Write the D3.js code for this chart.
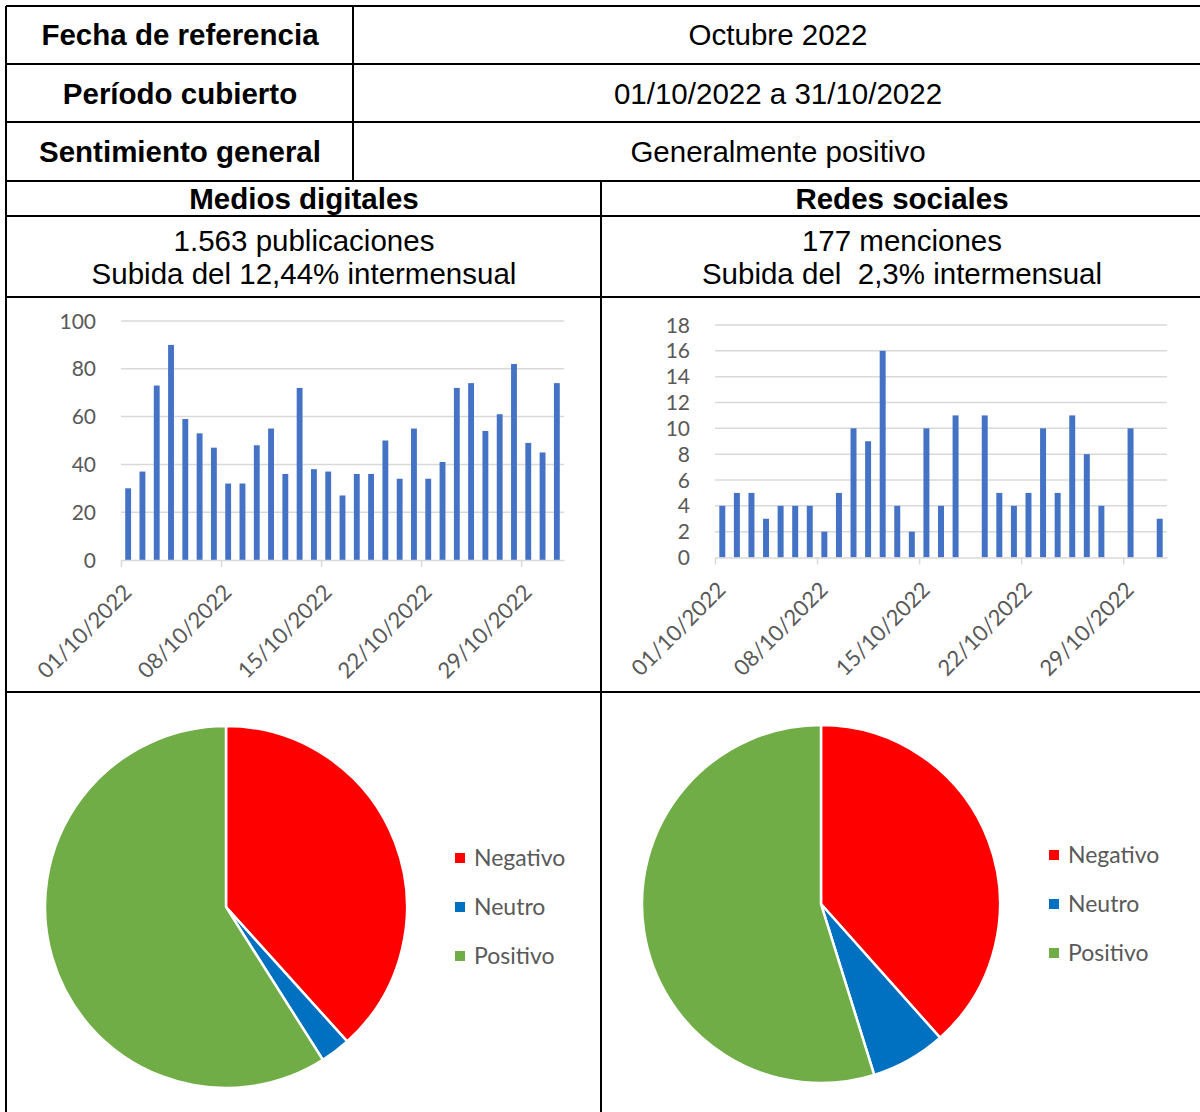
<!DOCTYPE html>
<html>
<head>
<meta charset="utf-8">
<script src="https://cdn.jsdelivr.net/npm/d3@7"></script>
<style>
    body { margin: 0; background: #fff; }
    svg text { font-family: "Liberation Sans", Arial, sans-serif; white-space: pre; }
    .axis text, .legend text { font-family: Lato, "Open Sans", sans-serif; fill: #595959; }
</style>
</head>
<body>
<div id="chart"></div>
<script>
// publicaciones diarias en medios digitales, 1 a 31 de octubre
var mediosValues = [30, 37, 73, 90, 59, 53, 47, 32, 32, 48, 55, 36, 72, 38, 37, 27,
    36, 36, 50, 34, 55, 34, 41, 72, 74, 54, 61, 82, 49, 45, 74];
// menciones diarias en redes sociales
var redesValues = [4, 5, 5, 3, 4, 4, 4, 2, 5, 10, 9, 16, 4, 2, 10, 4,
    11, 0, 11, 5, 4, 5, 10, 5, 11, 8, 4, 0, 10, 0, 3];

var sentimentLabels = ["Negativo", "Neutro", "Positivo"];
var sentimentColors = ["#ff0000", "#0070c0", "#70ad47"];
var mediosSentiment = [599, 42, 922];
var redesSentiment = [68, 12, 97];

var mediosTicks = [0, 20, 40, 60, 80, 100];
var redesTicks = [0, 2, 4, 6, 8, 10, 12, 14, 16, 18];

var tableRows = [
    ["Fecha de referencia", "Octubre 2022"],
    ["Período cubierto", "01/10/2022 a 31/10/2022"],
    ["Sentimiento general", "Generalmente positivo"]
];
var sectionTitles = ["Medios digitales", "Redes sociales"];
var sectionLines = [
    ["1.563 publicaciones", "Subida del 12,44% intermensual"],
    ["177 menciones", "Subida del  2,3% intermensual"]
];

var W = 1200, H = 1112;
var svg = d3.select("#chart").append("svg")
    .attr("width", W).attr("height", H);

function drawTable() {
    var g = svg.append("g");
    var hLines = [
        [6, 1200, 6], [6, 1200, 64], [6, 1200, 122], [6, 1200, 181],
        [6, 1200, 216], [6, 1200, 297], [6, 1200, 692]
    ];
    var vLines = [[6, 6, 1112], [353, 6, 181], [601, 181, 1112]];

    g.selectAll("line.h").data(hLines).enter().append("line")
        .attr("x1", function(d) { return d[0]; })
        .attr("x2", function(d) { return d[1]; })
        .attr("y1", function(d) { return d[2]; })
        .attr("y2", function(d) { return d[2]; })
        .attr("stroke", "#000").attr("stroke-width", 2);
    g.selectAll("line.v").data(vLines).enter().append("line")
        .attr("x1", function(d) { return d[0]; })
        .attr("x2", function(d) { return d[0]; })
        .attr("y1", function(d) { return d[1]; })
        .attr("y2", function(d) { return d[2]; })
        .attr("stroke", "#000").attr("stroke-width", 2);

    var rowBase = [45, 104, 162];
    tableRows.forEach(function(r, i) {
        g.append("text").attr("x", 180).attr("y", rowBase[i])
            .attr("text-anchor", "middle").attr("font-weight", "bold")
            .attr("font-size", 29.5).text(r[0]);
        g.append("text").attr("x", 778).attr("y", rowBase[i])
            .attr("text-anchor", "middle")
            .attr("font-size", 29.5).text(r[1]);
    });

    var centers = [304, 902];
    sectionTitles.forEach(function(t, i) {
        g.append("text").attr("x", centers[i]).attr("y", 209)
            .attr("text-anchor", "middle").attr("font-weight", "bold")
            .attr("font-size", 29.5).text(t);
        g.append("text").attr("x", centers[i]).attr("y", 251)
            .attr("text-anchor", "middle").attr("font-size", 29.5).text(sectionLines[i][0]);
        g.append("text").attr("x", centers[i]).attr("y", 284)
            .attr("text-anchor", "middle").attr("font-size", 29.5).text(sectionLines[i][1]);
    });
}

function drawBars(values, ticks, box) {
    var days = d3.timeDay.range(new Date(2022, 9, 1), new Date(2022, 10, 1));
    var x = d3.scaleTime()
        .domain([new Date(2022, 9, 1), new Date(2022, 10, 1)])
        .range([box.x0, box.x1]);
    var y = d3.scaleLinear()
        .domain([0, ticks[ticks.length - 1]])
        .range([box.y0, box.y1]);
    var dayW = (box.x1 - box.x0) / days.length;
    var bw = dayW * 0.41;

    var g = svg.append("g");

    // gridlines
    g.selectAll("line.grid").data(ticks.slice(1)).enter().append("line")
        .attr("x1", box.x0).attr("x2", box.x1)
        .attr("y1", function(d) { return y(d); })
        .attr("y2", function(d) { return y(d); })
        .attr("stroke", "#d9d9d9").attr("stroke-width", 1.5);

    // y labels
    var ya = g.append("g").attr("class", "axis");
    ya.selectAll("text").data(ticks).enter().append("text")
        .attr("x", box.x0 - 25)
        .attr("y", function(d) { return y(d); })
        .attr("dy", "0.36em")
        .attr("text-anchor", "end")
        .attr("font-size", 21)
        .text(function(d) { return d; });

    g.selectAll("rect").data(values).enter().append("rect")
        .attr("x", function(d, i) { return x(days[i]) + dayW / 2 - bw / 2; })
        .attr("y", function(d) { return y(d); })
        .attr("width", bw)
        .attr("height", function(d) { return y(0) - y(d); })
        .attr("fill", "#4472c4");

    var xa = g.append("g").attr("class", "axis")
        .attr("transform", "translate(0," + box.y0 + ")")
        .call(d3.axisBottom(x)
            .ticks(d3.timeDay.filter(function(d) { return (d.getDate() - 1) % 7 === 0 && d.getMonth() === 9; }))
            .tickFormat(d3.timeFormat("%d/%m/%Y"))
            .tickSize(7).tickSizeOuter(0));
    xa.select(".domain").attr("stroke", "#d9d9d9").attr("stroke-width", 1.5);
    xa.selectAll(".tick line").attr("stroke", "#d9d9d9").attr("stroke-width", 1.5);
    xa.selectAll(".tick text")
        .attr("font-size", 22)
        .attr("text-anchor", "end")
        .attr("y", 0).attr("dy", "0.36em")
        .attr("transform", "translate(6,28) rotate(-45)");
}

function drawPie(values, cx, cy, r, lx, ly) {
    var pie = d3.pie().sort(null).value(function(d) { return d; });
    var arc = d3.arc().innerRadius(0).outerRadius(r);
    var g = svg.append("g").attr("transform", "translate(" + cx + "," + cy + ")");
    g.selectAll("path").data(pie(values)).enter().append("path")
        .attr("d", arc)
        .attr("fill", function(d, i) { return sentimentColors[i]; })
        .attr("stroke", "#fff").attr("stroke-width", 2.5);

    var lg = svg.append("g").attr("class", "legend")
        .attr("transform", "translate(" + lx + "," + ly + ")");
    var item = lg.selectAll("g").data(sentimentLabels).enter().append("g")
        .attr("transform", function(d, i) { return "translate(0," + (i * 49) + ")"; });
    item.append("rect").attr("x", 0).attr("y", -5).attr("width", 10).attr("height", 10)
        .attr("fill", function(d, i) { return sentimentColors[i]; });
    item.append("text").attr("x", 19).attr("dy", "0.36em")
        .attr("font-size", 23).text(function(d) { return d; });
}

drawTable();
drawBars(mediosValues, mediosTicks, {x0: 121, x1: 564, y0: 560, y1: 321});
drawBars(redesValues, redesTicks, {x0: 715, x1: 1167, y0: 557.5, y1: 325});
drawPie(mediosSentiment, 226, 907, 181, 455, 858);
drawPie(redesSentiment, 821, 904, 179, 1049, 855);
</script>
</body>
</html>
